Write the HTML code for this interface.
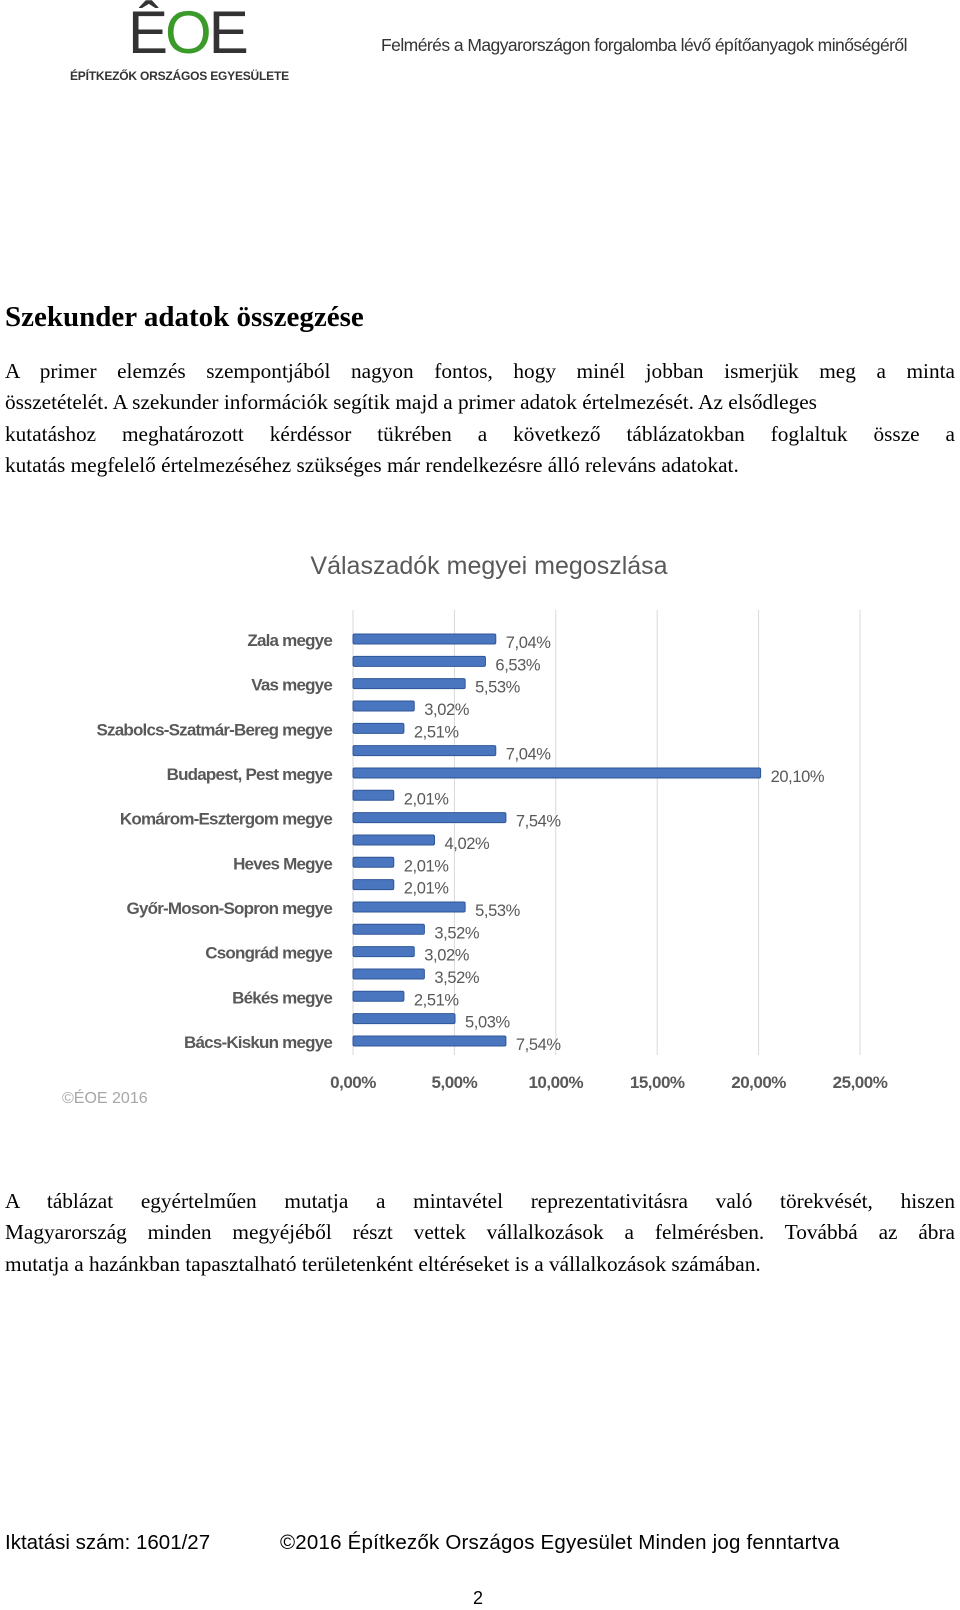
<!DOCTYPE html>
<html><head><meta charset="utf-8"><style>
body{margin:0;width:960px;height:1610px;background:#fff;position:relative;overflow:hidden;font-family:"Liberation Serif",serif;color:#000}
.abs{position:absolute}
.para{position:absolute;left:5px;width:950px;font-size:21.3px;line-height:31.3px}
.para div{text-align:justify;text-align-last:justify;white-space:nowrap}
.para div.last{text-align-last:left}
</style></head><body>
<div class="abs" style="left:68px;top:0;width:240px;height:85px">
 <div class="abs" style="left:60px;top:-2px;font:60px 'Liberation Sans',sans-serif;color:#333;letter-spacing:-3px;line-height:70px">Ê<span style="color:#3a9a2a">O</span>E</div>
 <div class="abs" style="left:2px;top:69px;font:bold 12px 'Liberation Sans',sans-serif;color:#333;white-space:nowrap;letter-spacing:-0.2px">ÉPÍTKEZŐK ORSZÁGOS EGYESÜLETE</div>
</div>
<div class="abs" style="left:381px;top:35px;font:17.5px 'Liberation Sans',sans-serif;color:#333;letter-spacing:-0.55px;white-space:nowrap">Felmérés a Magyarországon forgalomba lévő építőanyagok minőségéről</div>

<div class="abs" style="left:5px;top:301px;font:bold 29px 'Liberation Serif',serif">Szekunder adatok összegzése</div>
<div class="para" style="top:356px">
<div>A primer elemzés szempontjából nagyon fontos, hogy minél jobban ismerjük meg a minta</div>
<div class="last">összetételét. A szekunder információk segítik majd a primer adatok értelmezését. Az elsődleges</div>
<div>kutatáshoz meghatározott kérdéssor tükrében a következő táblázatokban foglaltuk össze a</div>
<div class="last">kutatás megfelelő értelmezéséhez szükséges már rendelkezésre álló releváns adatokat.</div>
</div>

<svg class="abs" style="left:0;top:540px" width="960" height="580"></svg>

<div class="para" style="top:1186px">
<div>A táblázat egyértelműen mutatja a mintavétel reprezentativitásra való törekvését, hiszen</div>
<div>Magyarország minden megyéjéből részt vettek vállalkozások a felmérésben. Továbbá az ábra</div>
<div class="last">mutatja a hazánkban tapasztalható területenként eltéréseket is a vállalkozások számában.</div>
</div>

<div class="abs" style="left:5px;top:1531px;font:20.5px 'Liberation Sans',sans-serif;white-space:nowrap">Iktatási szám: 1601/27</div>
<div class="abs" style="left:280px;top:1531px;font:20.5px 'Liberation Sans',sans-serif;white-space:nowrap;letter-spacing:0.2px">©2016 Építkezők Országos Egyesület Minden jog fenntartva</div>
<div class="abs" style="left:473px;top:1588px;font:18px 'Liberation Sans',sans-serif">2</div>

<script>
const values=[7.04,6.53,5.53,3.02,2.51,7.04,20.10,2.01,7.54,4.02,2.01,2.01,5.53,3.52,3.02,3.52,2.51,5.03,7.54];
const categories=["Zala megye","","Vas megye","","Szabolcs-Szatmár-Bereg megye","","Budapest, Pest megye","","Komárom-Esztergom megye","","Heves Megye","","Győr-Moson-Sopron megye","","Csongrád megye","","Békés megye","","Bács-Kiskun megye"];
const ticks=[0,5,10,15,20,25];
const svg=document.querySelector('svg');
const NS='http://www.w3.org/2000/svg';
const x0=353,pxPer=20.28,yTop=99,step=22.33,bh=10;
const xs=v=>x0+v*pxPer;
const ys=i=>yTop+i*step;
function mk(t,a){const e=document.createElementNS(NS,t);for(const k in a)e.setAttribute(k,a[k]);svg.appendChild(e);return e;}
const fmt=v=>v.toFixed(2).replace('.',',')+'%';
let t=mk('text',{x:489,y:34,'text-anchor':'middle','font-family':'Liberation Sans, sans-serif','font-size':25,fill:'#595959'});


t.textContent='Válaszadók megyei megoszlása';
ticks.forEach(v=>{
 const l=mk('line',{x1:xs(v),x2:xs(v),y1:70,y2:ys(18)+14,stroke:'#d9d9d9','stroke-width':1});
 
 
 const tl=mk('text',{x:xs(v),y:548,'text-anchor':'middle','font-family':'Liberation Sans, sans-serif','font-size':17,'font-weight':'bold',fill:'#595959','letter-spacing':'-0.5'});
 
 
 tl.textContent=fmt(v);
});
values.forEach((v,i)=>{
 const y=ys(i);
 const r=mk('rect',{x:x0,y:y-bh/2,width:xs(v)-x0,height:bh,fill:'#4a76c0',stroke:'#2f5597','stroke-width':1,rx:1.5});
 
 
 const vl=mk('text',{x:xs(v)+10,y:y+9,'font-family':'Liberation Sans, sans-serif','font-size':16.5,fill:'#595959','letter-spacing':'-0.4'});
 
 
 vl.textContent=fmt(v);
 if(categories[i]){
  const cl=mk('text',{x:332,y:y+7,'text-anchor':'end','font-family':'Liberation Sans, sans-serif','font-size':17,'font-weight':'bold',fill:'#595959','letter-spacing':'-0.8'});
  
  
  cl.textContent=categories[i];
 }
});
t=mk('text',{x:62,y:563,'font-family':'Liberation Sans, sans-serif','font-size':16,fill:'#a6a6a6'});


t.textContent='©ÉOE 2016';
</script>
</body></html>
